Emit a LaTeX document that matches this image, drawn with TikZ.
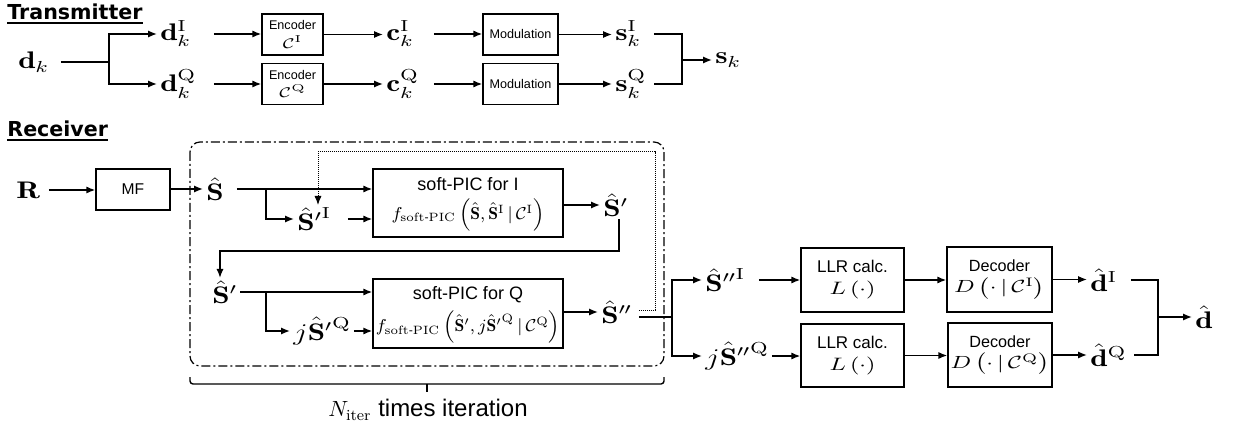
\RequirePackage{fix-cm}
\documentclass[tikz,border=0pt]{standalone}
\usepackage{amsmath}
\usepackage{graphicx}
\usepackage{fontspec}
\newfontfamily\boxfont{Liberation Sans}
\newfontfamily\ttlfont{DejaVu Sans}
\usetikzlibrary{arrows.meta}
\newcommand{\mx}[1]{\scalebox{1.3}[1]{$#1$}}
\newcommand{\mfm}[1]{\scalebox{1.02}[1]{$#1$}}
\newcommand{\hS}{\hat{\mathbf{S}}}
\newcommand{\upsc}[1]{\raisebox{1.6pt}{$\scriptstyle\mkern1mu\mathrm{#1}$}}
\newcommand{\rmI}{\mathrm{I}}
\newcommand{\rmQ}{\mathrm{Q}}
\newcommand{\fsz}[1]{\fontsize{#1}{#1}\selectfont}
\tikzset{
  ln/.style={line width=0.75pt},
  arr/.style={ln, -{Latex[length=4.5pt,width=3.6pt]}},
  mth/.style={anchor=west, inner xsep=1.5pt, inner ysep=1pt, align=left, font=\fsz{12}},
  ttl/.style={anchor=base west, inner sep=0pt, font=\ttlfont\bfseries\fsz{10.3}},
  blk/.style={draw, line width=0.7pt, inner sep=0pt, align=center, font=\boxfont},
  encbox/.style={blk, minimum width=30.5pt, minimum height=20.5pt, font=\boxfont\fsz{6.3}},
  modbox/.style={blk, minimum width=37.5pt, minimum height=20.5pt, font=\boxfont\fsz{6.3}},
  mfbox/.style={blk, minimum width=37pt, minimum height=20.5pt, font=\boxfont\fsz{7.8}},
  picbox/.style={blk, minimum width=95pt, minimum height=34pt, font=\boxfont\fsz{9}},
  llrbox/.style={blk, minimum width=51.5pt, minimum height=32pt, font=\boxfont\fsz{8.5}},
  decbox/.style={blk, minimum width=52.5pt, minimum height=32.5pt, font=\boxfont\fsz{8.1}},
  dashdot/.style={line width=0.6pt, dash pattern=on 4.5pt off 1.5pt on 1pt off 1.5pt},
  dotline/.style={line width=0.5pt, dash pattern=on 0.5pt off 0.5pt},
}
\begin{document}
\begin{tikzpicture}[x=0.5pt,y=-0.5pt]
\useasboundingbox (0,0) rectangle (1235,427);

% ---------------- Transmitter ----------------
\node[ttl] (ttlT) at (7,20) {Transmitter};
\draw[line width=1pt] ([yshift=-1.6pt]ttlT.base west) -- ([yshift=-1.6pt]ttlT.base east);

\node[mth, text width=19.5pt] (dk) at (15,62) {\mx{\mathbf{d}_k}};
\node[mth, text width=25pt] (dI) at (157,34) {\mx{\mathbf{d}_k^{\rmI}}};
\node[mth, text width=25pt] (dQ) at (157,84) {\mx{\mathbf{d}_k^{\rmQ}}};
\node[encbox] (encI) at (292.5,34.5) {Encoder\\[1.8pt]{\fsz{7}\mx{\mathcal{C}^{\rmI}}}};
\node[encbox] (encQ) at (292.5,84) {Encoder\\[1.8pt]{\fsz{7}\mx{\mathcal{C}^{\rmQ}}}};
\node[mth, text width=22pt] (cI) at (383,34) {\mx{\mathbf{c}_k^{\rmI}}};
\node[mth, text width=22pt] (cQ) at (383,84) {\mx{\mathbf{c}_k^{\rmQ}}};
\node[modbox] (modI) at (520.5,34.5) {Modulation};
\node[modbox] (modQ) at (520.5,84) {Modulation};
\node[mth, text width=17.5pt] (sI) at (612,34) {\mx{\mathbf{s}_k^{\rmI}}};
\node[mth, text width=17.5pt] (sQ) at (612,84) {\mx{\mathbf{s}_k^{\rmQ}}};
\node[mth] (sk) at (712,60) {\mx{\mathbf{s}_k}};

\coordinate (st) at (109,62);
\coordinate (mt) at (682,60);
\draw[ln] (dk.east |- st) -- (st);
\draw[arr] (st) |- (dI.west);
\draw[arr] (st) |- (dQ.west);
\draw[arr] (dI.east) -- (dI.east -| encI.west);
\draw[arr] (dQ.east) -- (dQ.east -| encQ.west);
\draw[arr] (encI.east) -- (encI.east -| cI.west);
\draw[arr] (encQ.east) -- (encQ.east -| cQ.west);
\draw[arr] (cI.east) -- (cI.east -| modI.west);
\draw[arr] (cQ.east) -- (cQ.east -| modQ.west);
\draw[arr] (modI.east) -- (modI.east -| sI.west);
\draw[arr] (modQ.east) -- (modQ.east -| sQ.west);
\draw[ln] (sI.east) -- (sI.east -| mt) -- (sQ.east -| mt) -- (sQ.east);
\draw[arr] (mt) -- (sk.west);

% ---------------- Receiver ----------------
\node[ttl] (ttlR) at (7,137) {Receiver};
\draw[line width=1pt] ([yshift=-1.6pt]ttlR.base west) -- ([yshift=-1.6pt]ttlR.base east);

\node[mth, text width=14.5pt] (R) at (13,190) {\mx{\mathbf{R}}};
\node[mfbox] (mf) at (133,189.5) {MF};
\node[mth, text width=13.5pt] (S) at (203,189) {\mx{\hS}};
\node[mth, text width=23.5pt] (sIp) at (294,219) {\mx{\hS^{\prime\upsc{I}}}};
\node[picbox] (picI) at (468,203) {\rule{0pt}{8pt}soft-PIC for I\\[3pt]{\fsz{8.6}\mfm{f_{\mathrm{soft\text{-}PIC}}\left(\hS,\hS^{\rmI}\,|\,\mathcal{C}^{\rmI}\right)}}};
\node[mth] (Sp) at (600,205) {\mx{\hS^{\prime}}};
\node[mth] (Sp2) at (209,292) {\mx{\hS^{\prime}}};
\node[mth, text width=28.5pt] (jSpQ) at (290,331) {\mx{j\hS^{\prime\upsc{Q}}}};
\node[picbox, minimum height=34.5pt] (picQ) at (468,313.5) {\rule{0pt}{8pt}soft-PIC for Q\\[3pt]{\fsz{8.6}\mfm{f_{\mathrm{soft\text{-}PIC}}\left(\hS^{\prime},j\hS^{\prime\upsc{Q}}\,|\,\mathcal{C}^{\rmQ}\right)}}};
\node[mth, text width=17pt] (Spp) at (598,312) {\mx{\hS^{\prime\prime}}};
\node[mth, text width=25pt] (SppI) at (702,280) {\mx{\hS^{\prime\prime\upsc{I}}}};
\node[mth, text width=31.5pt] (jSppQ) at (702,356) {\mx{j\hS^{\prime\prime\upsc{Q}}}};
\node[llrbox] (llrI) at (852.5,280) {LLR calc.\\[2.5pt]{\fsz{9}\mx{L\left(\cdot\right)}}};
\node[llrbox, minimum height=31.5pt] (llrQ) at (852.5,355.5) {LLR calc.\\[2.5pt]{\fsz{9}\mx{L\left(\cdot\right)}}};
\node[decbox] (decI) at (999.5,279.5) {Decoder\\[2.5pt]{\fsz{8.8}\mx{D\left(\cdot\,|\,\mathcal{C}^{\rmI}\right)}}};
\node[decbox, minimum width=52pt, minimum height=32pt] (decQ) at (1000,355) {Decoder\\[2.5pt]{\fsz{8.8}\mx{D\left(\cdot\,|\,\mathcal{C}^{\rmQ}\right)}}};
\node[mth, text width=18.5pt] (dhI) at (1087,280) {\mx{\hat{\mathbf{d}}^{\rmI}}};
\node[mth, text width=20pt] (dhQ) at (1087,355) {\mx{\hat{\mathbf{d}}^{\rmQ}}};
\node[mth] (dh) at (1192,317) {\mx{\hat{\mathbf{d}}}};

% iteration frame
\draw[dashdot, rounded corners=5pt] (190,142) rectangle (664,366);

% connectors
\coordinate (b1) at (266,189);
\coordinate (b2) at (266,292);
\draw[arr] (R.east) -- (R.east -| mf.west);
\draw[arr] (mf.east |- S.west) -- (S.west);
\draw[arr] (S.east) -- (S.east -| picI.west);
\draw[arr] (b1) |- (sIp.west);
\draw[arr] (sIp.east) -- (sIp.east -| picI.west);
\draw[arr] (picI.east |- Sp.west) -- (Sp.west);
\coordinate (fb1) at (619,251);
\coordinate (fb2) at (220,251);
\draw[arr] (Sp.south -| fb1) -- (fb1) -- (fb2) -- (fb2 |- Sp2.north);
\draw[arr] (Sp2.east) -- (Sp2.east -| picQ.west);
\draw[arr] (b2) |- (jSpQ.west);
\draw[arr] (jSpQ.east) -- (jSpQ.east -| picQ.west);
\draw[arr] (picQ.east |- Spp.west) -- (Spp.west);

% dotted feedback
\coordinate (dl1) at (655,310);
\coordinate (dl2) at (655,152);
\coordinate (dl3) at (318,152);
\draw[dotline, -{Latex[length=4.5pt,width=3.6pt]}] (Spp.east |- dl1) -- (dl1) -- (dl2) -- (dl3) -- (dl3 |- sIp.north);

% split to I/Q outputs
\coordinate (sr) at (672,317);
\draw[ln] (Spp.east |- sr) -- (sr);
\draw[arr] (sr) |- (SppI.west);
\draw[arr] (sr) |- (jSppQ.west);
\draw[arr] (SppI.east) -- (SppI.east -| llrI.west);
\draw[arr] (jSppQ.east) -- (jSppQ.east -| llrQ.west);
\draw[arr] (llrI.east) -- (llrI.east -| decI.west);
\draw[arr] (llrQ.east) -- (llrQ.east -| decQ.west);
\draw[arr] (decI.east) -- (decI.east -| dhI.west);
\draw[arr] (decQ.east) -- (decQ.east -| dhQ.west);
\coordinate (mr) at (1158,317);
\draw[ln] (dhI.east) -- (dhI.east -| mr) -- (dhQ.east -| mr) -- (dhQ.east);
\draw[arr] (mr) -- (dh.west);

% brace
\draw[line width=0.7pt, rounded corners=1.5pt] (190,377) -- (190,384) -- (664,384) -- (664,377);
\coordinate (bt) at (427,384);
\draw[line width=0.7pt] (bt) -- ++(0,8);
\node[font=\boxfont\fsz{12}, inner sep=0pt] (lbl) at (428,410) {{\fsz{11}$N_{\mathrm{iter}}$} times iteration};
\end{tikzpicture}
\end{document}
